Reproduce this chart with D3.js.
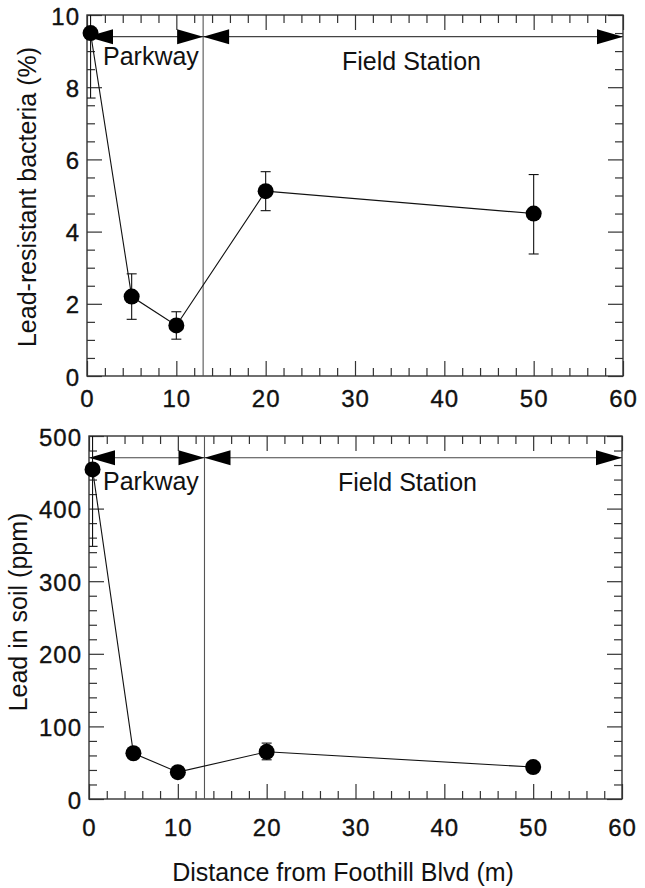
<!DOCTYPE html>
<html>
<head>
<meta charset="utf-8">
<script src="https://cdn.jsdelivr.net/npm/d3@7"></script>
<style>
  html, body { margin: 0; padding: 0; background: #ffffff; }
  svg { display: block; }
  text { font-family: "Liberation Sans", Arial, Helvetica, sans-serif; fill: #111; }
</style>
</head>
<body>
<svg id="chart" width="645" height="888"></svg>
<script>
// ---------- data ----------
const distance = [0.4, 5, 10, 20, 50];
const bacteria = [9.5, 2.2, 1.4, 5.12, 4.5];
const bacteriaLow = [7.7, 1.57, 1.02, 4.58, 3.38];
const bacteriaHigh = [11.3, 2.83, 1.78, 5.66, 5.58];
const leadSoil = [454, 63, 37, 65, 44];
const leadLow = [348, 58, 33, 54, 41];
const leadHigh = [560, 68, 41, 77, 47];
const xTicks = [0, 10, 20, 30, 40, 50, 60];
const xMinor = [2, 4, 6, 8, 12, 14, 16, 18, 22, 24, 26, 28, 32, 34, 36, 38, 42, 44, 46, 48, 52, 54, 56, 58];
const bactTicks = [0, 2, 4, 6, 8, 10];
const bactMinor = [0.5, 1, 1.5, 2.5, 3, 3.5, 4.5, 5, 5.5, 6.5, 7, 7.5, 8.5, 9, 9.5];
const leadTicks = [0, 100, 200, 300, 400, 500];
const leadMinor = [20, 40, 60, 80, 120, 140, 160, 180, 220, 240, 260, 280, 320, 340, 360, 380, 420, 440, 460, 480];
const boundary = 13;
const zoneNames = ["Parkway", "Field Station"];
const xTitle = "Distance from Foothill Blvd (m)";

const svg = d3.select("#chart");

function panel(cfg) {
  const x = d3.scaleLinear().domain([0, 60]).range([cfg.left, cfg.right]);
  const y = d3.scaleLinear().domain(cfg.yDomain).range([cfg.bottom, cfg.top]);
  const g = svg.append("g");
  const clipId = "clip" + cfg.id;
  svg.append("clipPath").attr("id", clipId).append("rect")
    .attr("x", cfg.left).attr("y", cfg.top)
    .attr("width", cfg.right - cfg.left).attr("height", cfg.bottom - cfg.top);

  const styleAxis = sel => {
    sel.select(".domain").remove();
    sel.selectAll(".tick line").attr("stroke", "#333").attr("stroke-width", 1.2);
    sel.selectAll("text").style("font-size", "24px").style("letter-spacing", "1px")
      .attr("fill", "#111").attr("stroke", "#111").attr("stroke-width", 0.35);
  };
  // bottom
  g.append("g").attr("transform", `translate(0,${cfg.bottom})`)
    .call(d3.axisBottom(x).tickValues(xTicks).tickSizeInner(-15).tickSizeOuter(0).tickPadding(cfg.xPad))
    .call(styleAxis);
  g.append("g").attr("transform", `translate(0,${cfg.bottom})`)
    .call(d3.axisBottom(x).tickValues(xMinor).tickSizeInner(-8).tickSizeOuter(0).tickFormat(""))
    .call(styleAxis);
  // top
  g.append("g").attr("transform", `translate(0,${cfg.top})`)
    .call(d3.axisTop(x).tickValues(xTicks).tickSizeInner(-15).tickSizeOuter(0).tickFormat(""))
    .call(styleAxis);
  g.append("g").attr("transform", `translate(0,${cfg.top})`)
    .call(d3.axisTop(x).tickValues(xMinor).tickSizeInner(-8).tickSizeOuter(0).tickFormat(""))
    .call(styleAxis);
  // left
  g.append("g").attr("transform", `translate(${cfg.left},0)`)
    .call(d3.axisLeft(y).tickValues(cfg.yTicks).tickSizeInner(-15).tickSizeOuter(0).tickPadding(7))
    .call(styleAxis)
    .call(s => s.selectAll("text").attr("dy", "0.38em"));
  g.append("g").attr("transform", `translate(${cfg.left},0)`)
    .call(d3.axisLeft(y).tickValues(cfg.yMinor).tickSizeInner(-8).tickSizeOuter(0).tickFormat(""))
    .call(styleAxis);
  // right
  g.append("g").attr("transform", `translate(${cfg.right},0)`)
    .call(d3.axisRight(y).tickValues(cfg.yTicks).tickSizeInner(-15).tickSizeOuter(0).tickFormat(""))
    .call(styleAxis);
  g.append("g").attr("transform", `translate(${cfg.right},0)`)
    .call(d3.axisRight(y).tickValues(cfg.yMinor).tickSizeInner(-8).tickSizeOuter(0).tickFormat(""))
    .call(styleAxis);

  // frame
  g.append("rect")
    .attr("x", cfg.left).attr("y", cfg.top)
    .attr("width", cfg.right - cfg.left).attr("height", cfg.bottom - cfg.top)
    .attr("fill", "none").attr("stroke", "#333").attr("stroke-width", 1.4);

  // zone boundary
  g.append("line")
    .attr("x1", x(boundary)).attr("x2", x(boundary))
    .attr("y1", cfg.top).attr("y2", cfg.bottom)
    .attr("stroke", "#555").attr("stroke-width", 1.1);

  // zone arrows
  const ay = y(cfg.arrowY);
  g.append("line").attr("x1", x(0)).attr("x2", x(60)).attr("y1", ay).attr("y2", ay)
    .attr("stroke", "#444").attr("stroke-width", 1.1);
  const L = 26, H = 7.5;
  const heads = [
    { tip: x(0), dir: -1 }, { tip: x(boundary), dir: 1 },
    { tip: x(boundary), dir: -1 }, { tip: x(60), dir: 1 }
  ];
  g.selectAll(".head").data(heads).join("path")
    .attr("d", d => `M${d.tip},${ay} L${d.tip - d.dir * L},${ay - H} L${d.tip - d.dir * L},${ay + H} Z`)
    .attr("fill", "#000");

  // zone labels
  g.append("text").attr("x", 103).attr("y", cfg.parkY)
    .style("font-size", "25px").text(zoneNames[0]);
  g.append("text").attr("x", cfg.fieldX).attr("y", cfg.fieldY)
    .style("font-size", "25px").text(zoneNames[1]);

  // error bars
  const eb = g.append("g").attr("clip-path", `url(#${clipId})`);
  const pts = distance.map((d, i) => ({ x: d, v: cfg.vals[i], lo: cfg.lo[i], hi: cfg.hi[i] }));
  eb.selectAll(".eb").data(pts).join("line")
    .attr("x1", d => x(d.x)).attr("x2", d => x(d.x))
    .attr("y1", d => y(d.lo)).attr("y2", d => y(d.hi))
    .attr("stroke", "#111").attr("stroke-width", 1.1);
  ["lo", "hi"].forEach(k => {
    eb.selectAll(".cap" + k).data(pts).join("line")
      .attr("x1", d => x(d.x) - 5).attr("x2", d => x(d.x) + 5)
      .attr("y1", d => y(d[k])).attr("y2", d => y(d[k]))
      .attr("stroke", "#111").attr("stroke-width", 1.1);
  });

  // line + markers
  g.append("path").datum(pts)
    .attr("d", d3.line().x(d => x(d.x)).y(d => y(d.v)))
    .attr("fill", "none").attr("stroke", "#111").attr("stroke-width", 1.1);
  g.selectAll(".pt").data(pts).join("circle")
    .attr("cx", d => x(d.x)).attr("cy", d => y(d.v)).attr("r", 8)
    .attr("fill", "#000");

  // y title
  g.append("text")
    .attr("transform", `translate(${cfg.yTitleX},${cfg.yTitleY}) rotate(-90)`)
    .attr("text-anchor", "middle").style("font-size", "25px")
    .text(cfg.yTitle);
}

panel({
  id: "a", left: 87, right: 623, top: 15, bottom: 376,
  yDomain: [0, 10], yTicks: bactTicks, yMinor: bactMinor,
  vals: bacteria, lo: bacteriaLow, hi: bacteriaHigh,
  arrowY: 9.4, xPad: 14, parkY: 65, fieldX: 342, fieldY: 70,
  yTitle: "Lead-resistant bacteria (%)", yTitleX: 36, yTitleY: 197
});

panel({
  id: "b", left: 89, right: 622, top: 436, bottom: 799,
  yDomain: [0, 500], yTicks: leadTicks, yMinor: leadMinor,
  vals: leadSoil, lo: leadLow, hi: leadHigh,
  arrowY: 470, xPad: 20, parkY: 490, fieldX: 338, fieldY: 491,
  yTitle: "Lead in soil (ppm)", yTitleX: 27, yTitleY: 612
});

svg.append("text").attr("x", 343).attr("y", 881)
  .attr("text-anchor", "middle").style("font-size", "25px")
  .text(xTitle);
</script>
</body>
</html>
